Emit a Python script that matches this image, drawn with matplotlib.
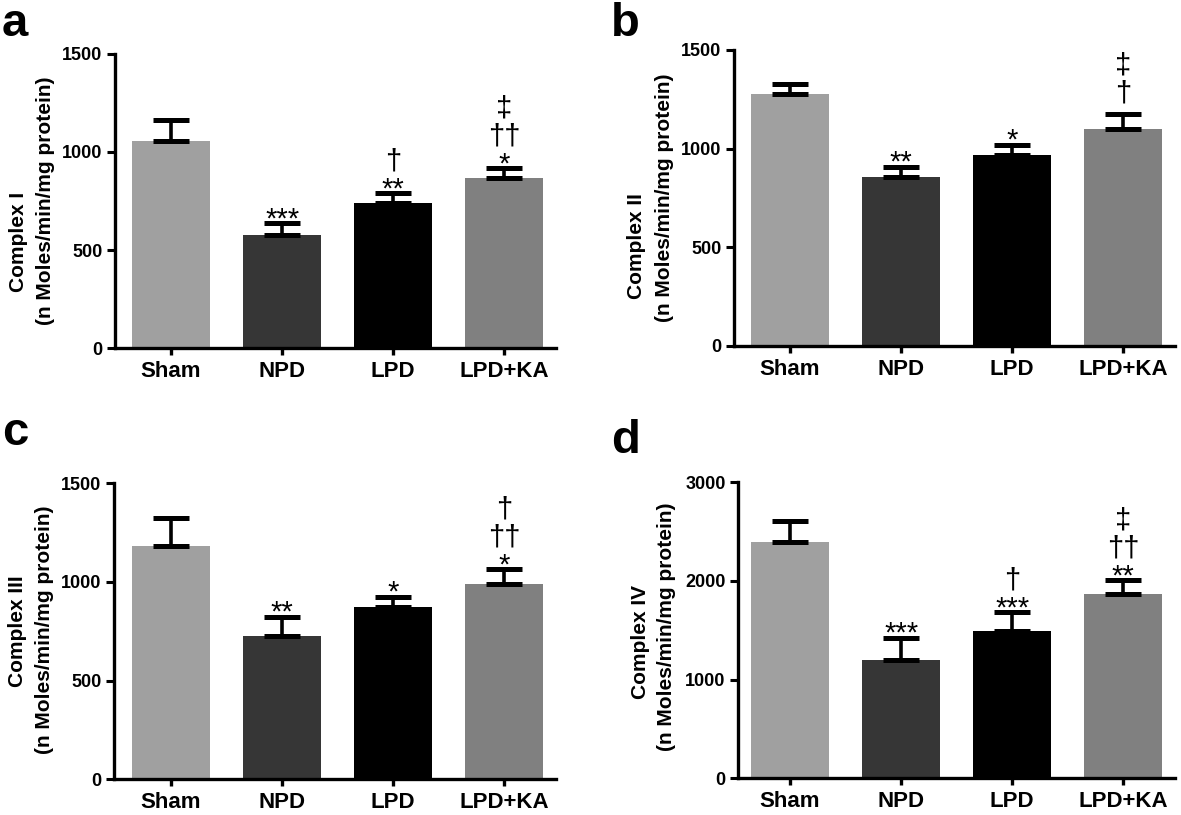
import matplotlib
matplotlib.use("Agg")
import matplotlib.pyplot as plt
import numpy as np

plt.rcParams['font.family'] = ['Liberation Sans', 'DejaVu Sans']

categories = ["Sham", "NPD", "LPD", "LPD+KA"]
bar_colors = ["#a0a0a0", "#363636", "#000000", "#808080"]

complex1_mean = [1055, 578, 738, 868]
complex1_sem = [106, 59, 51, 47]
complex1_marks = [[], ["***"], ["**", "†"], ["*", "††", "‡"]]

complex2_mean = [1277, 858, 968, 1098]
complex2_sem = [51, 51, 51, 78]
complex2_marks = [[], ["**"], ["*"], ["†", "‡"]]

complex3_mean = [1182, 726, 875, 990]
complex3_sem = [144, 98, 51, 74]
complex3_marks = [[], ["**"], ["*"], ["*", "††", "†"]]

complex4_mean = [2389, 1198, 1492, 1863]
complex4_sem = [216, 226, 189, 145]
complex4_marks = [[], ["***"], ["***", "†"], ["**", "††", "‡"]]

panels = [
    dict(letter="a", title="Complex I", mean=complex1_mean, sem=complex1_sem,
         marks=complex1_marks, ymax=1500, yticks=[0, 500, 1000, 1500],
         px=(115, 556, 53.5, 348.3), first=171, lab1=(19, 242), lab2=(46, 201), let=(2, 36)),
    dict(letter="b", title="Complex II", mean=complex2_mean, sem=complex2_sem,
         marks=complex2_marks, ymax=1500, yticks=[0, 500, 1000, 1500],
         px=(734, 1175, 50, 346), first=790, lab1=(637, 246), lab2=(665, 198), let=(611, 36)),
    dict(letter="c", title="Complex III", mean=complex3_mean, sem=complex3_sem,
         marks=complex3_marks, ymax=1500, yticks=[0, 500, 1000, 1500],
         px=(114, 556, 483.3, 779.3), first=171, lab1=(18, 631), lab2=(45, 630), let=(2, 445)),
    dict(letter="d", title="Complex IV", mean=complex4_mean, sem=complex4_sem,
         marks=complex4_marks, ymax=3000, yticks=[0, 1000, 2000, 3000],
         px=(738, 1175, 482, 778.3), first=790, lab1=(640, 642), lab2=(667, 627), let=(611, 453)),
]

W, H = 1181, 815
fig = plt.figure(figsize=(W / 100, H / 100), dpi=100)

spacing_px = 111.1
PT = 100 / 72.0  # px per point
MARK_FS = 21
EM = MARK_FS * PT

for p in panels:
    x0, x1, ytop, ybot = p["px"]
    ax = fig.add_axes([x0 / W, 1 - ybot / H, (x1 - x0) / W, (ybot - ytop) / H])
    xs = np.arange(len(categories))
    ax.bar(xs, p["mean"], width=0.705, color=bar_colors, edgecolor="none", zorder=2)
    ax.errorbar(xs, p["mean"], yerr=[np.zeros(4), p["sem"]], fmt="none",
                ecolor="black", elinewidth=2.6, capsize=13, capthick=3.6, zorder=3)
    xl = -(p["first"] - x0) / spacing_px
    xr = xl + (x1 - x0) / spacing_px
    ax.set_xlim(xl, xr)
    ax.set_ylim(0, p["ymax"])
    ax.set_yticks(p["yticks"])
    ax.set_xticks(xs)
    ax.set_xticklabels(categories, fontsize=16, fontweight="bold")
    ax.set_yticklabels([str(t) for t in p["yticks"]], fontsize=13, fontweight="bold")
    for s in ["top", "right"]:
        ax.spines[s].set_visible(False)
    for s in ["left", "bottom"]:
        ax.spines[s].set_linewidth(2.4)
    ax.tick_params(axis="y", length=6, width=2.2, pad=3)
    ax.tick_params(axis="x", length=5, width=2.4, pad=4.5)

    # significance marks: one stacked text per bar (bottom item nearest the cap)
    for i, mk in enumerate(p["marks"]):
        if not mk:
            continue
        top = p["mean"][i] + p["sem"][i]
        first_star = mk[0].startswith("*")
        if first_star:
            baseline_px = 13 - 0.58 * EM
        else:
            baseline_px = 21 - 0.30 * EM
        bottom_px = baseline_px - 0.212 * EM
        ax.annotate("\n".join(reversed(mk)), xy=(i, top), xytext=(0, bottom_px / PT),
                    textcoords="offset points", ha="center", va="bottom",
                    fontsize=MARK_FS, linespacing=1.0, multialignment="center", zorder=4)

    fig.text(p["lab1"][0] / W, 1 - p["lab1"][1] / H, p["title"], rotation=90,
             ha="center", va="center", fontsize=15, fontweight="bold")
    fig.text(p["lab2"][0] / W, 1 - p["lab2"][1] / H, "(n Moles/min/mg protein)",
             rotation=90, ha="center", va="center", fontsize=15, fontweight="bold")
    fig.text(p["let"][0] / W, 1 - p["let"][1] / H, p["letter"], ha="left",
             va="baseline", fontsize=34, fontweight="bold")

fig.savefig("out.png", dpi=100)
